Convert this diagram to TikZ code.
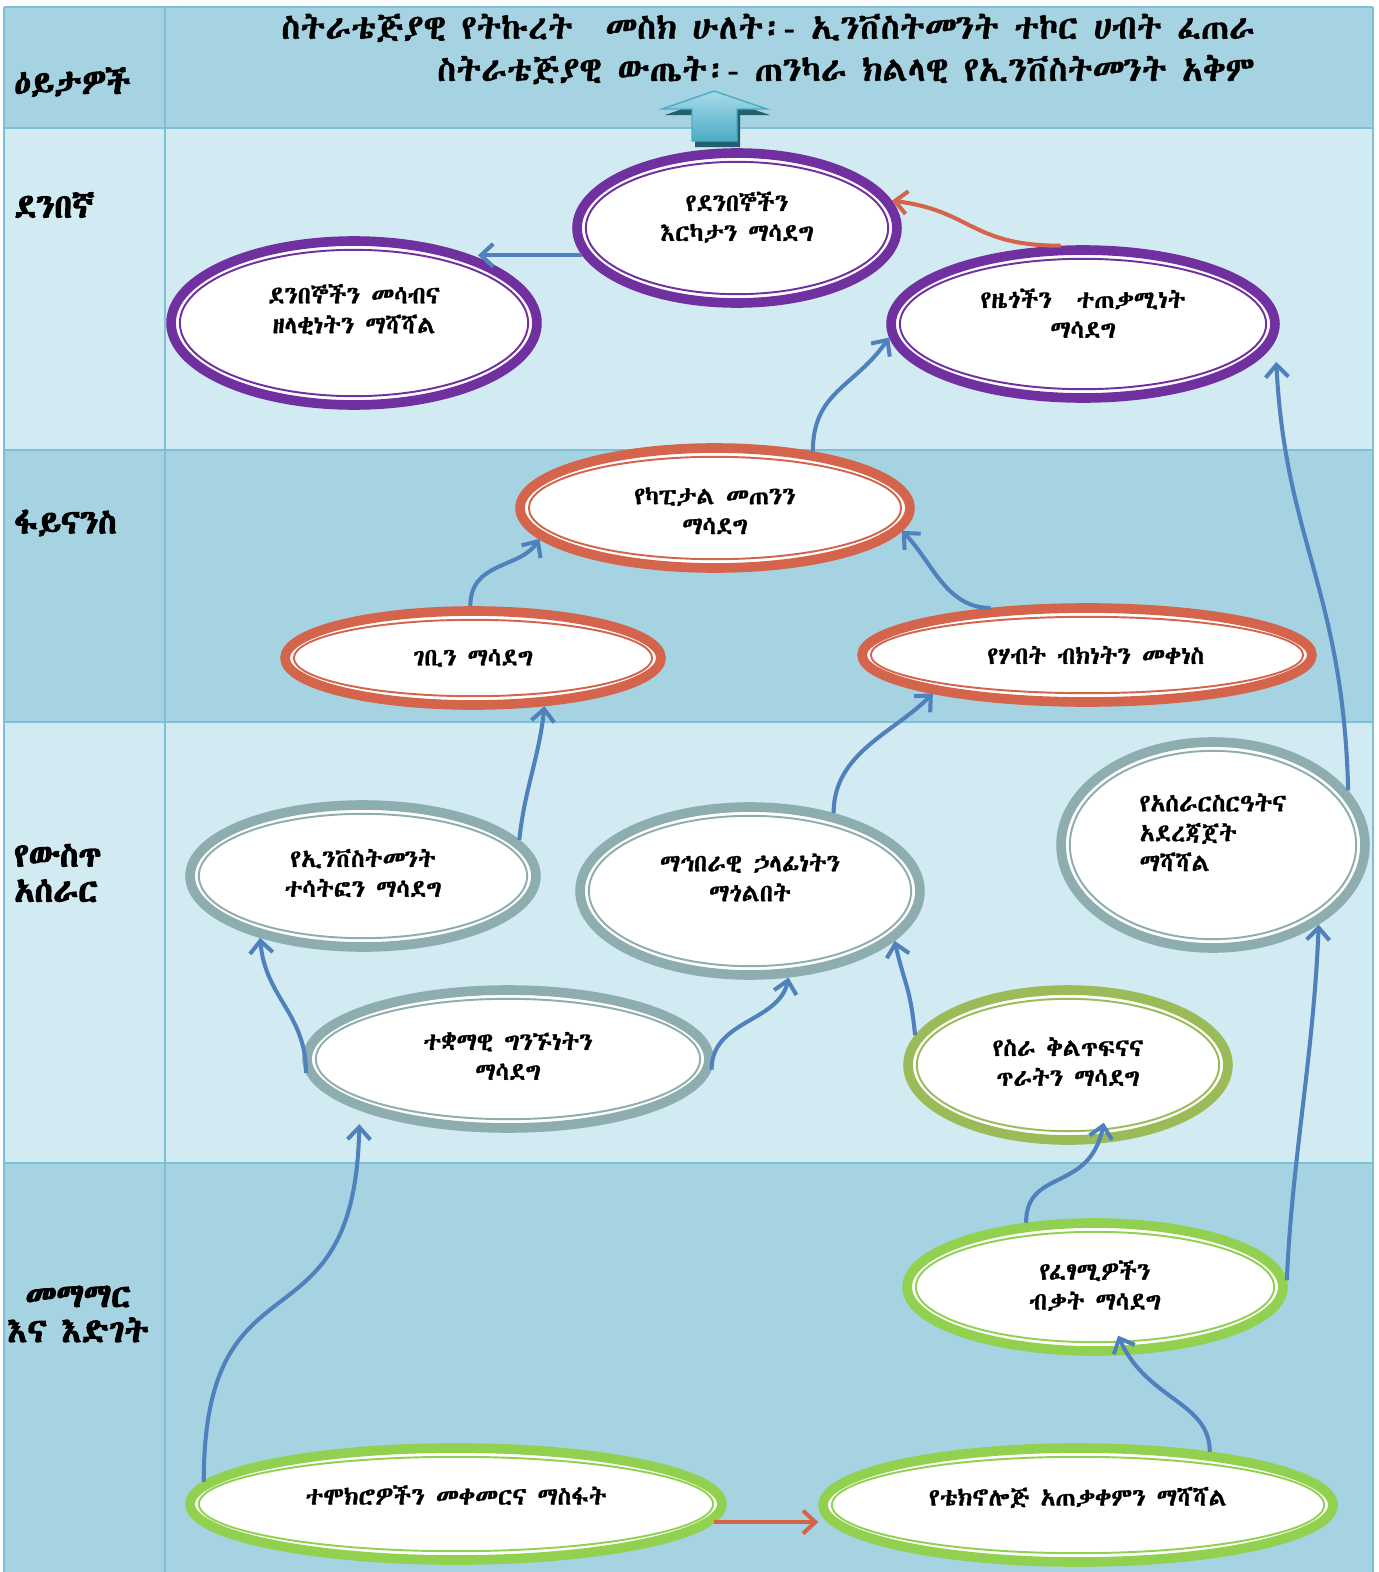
\documentclass[tikz,border=0pt]{standalone}
\usepackage{fontspec}
\usetikzlibrary{shapes.geometric,arrows.meta,calc}

\IfFontExistsTF{Abyssinica SIL}{%
	\newfontfamily\geez[FakeBold=1]{Abyssinica SIL}\newfontfamily\geezbold[FakeBold=3]{Abyssinica SIL}}{%
\IfFontExistsTF{Noto Sans Ethiopic}{%
	\newfontfamily\geez{Noto Sans Ethiopic}\newfontfamily\geezbold[FakeBold=2]{Noto Sans Ethiopic}}{%
	\newfontfamily\geez{FreeSerif}\newfontfamily\geezbold[FakeBold=2]{FreeSerif}}}

\newcommand\goalfont{\geez\fontsize{14}{17}\selectfont}
\newcommand\labelfont{\geezbold\fontsize{19}{20}\selectfont}
\newcommand\titlefont{\geez\fontsize{19.5}{24}\selectfont}
% text block moved up or down inside its oval
\newcommand\lift[3][c]{\raisebox{#2}[\height][\depth]{\begin{tabular}{@{}#1@{}}#3\end{tabular}}}

\definecolor{banddark}{HTML}{A5D3E1}
\definecolor{bandlight}{HTML}{D2EAF2}
\definecolor{gridline}{HTML}{7CBFD6}
\definecolor{custpurple}{HTML}{7030A0}
\definecolor{finred}{HTML}{D4644B}
\definecolor{procgrey}{HTML}{8EADAE}
\definecolor{procolive}{HTML}{9BBB59}
\definecolor{learngreen}{HTML}{92D050}
\definecolor{linkblue}{HTML}{4F81BD}
\definecolor{linkred}{HTML}{D4644B}
\definecolor{arrowtop}{HTML}{A9DAEA}
\definecolor{arrowbot}{HTML}{4BACC6}
\definecolor{arrowshade}{HTML}{245F70}

\begin{document}
\begin{tikzpicture}[x=0.02cm, y=-0.02cm,
	goal/.style={ellipse, draw=#1, line width=5.5pt, fill=white, inner sep=0pt, font=\goalfont,
		path picture={\draw[#1, line width=1.1pt] let \p1=(path picture bounding box.north east), \p2=(path picture bounding box.center) in (\p2) ellipse ({\x1-\x2-5pt} and {\y1-\y2-5pt});}},
	oval/.style 2 args={minimum width=#1*0.04cm, minimum height=#2*0.04cm},
	link/.style={linkblue, line width=2.3pt, -{Straight Barb[length=7pt, width=13pt]}},
	hotlink/.style={link, linkred},
	rowlabel/.style={anchor=west, align=left, font=\labelfont}]
	\useasboundingbox (0,0) rectangle (1379,1572);

	%bands
	\foreach \ya/\yb/\col in {7/128/banddark, 128/450/bandlight, 450/722/banddark, 722/1163/bandlight, 1163/1572/banddark}
		\fill[\col] (4,\ya) rectangle (1373,\yb);
	\foreach \y in {7, 128, 450, 722, 1163}
		\draw[gridline, line width=1.5pt] (4,\y) -- (1373,\y);
	\foreach \x in {4, 165, 1373}
		\draw[gridline, line width=1.5pt] (\x,7) -- (\x,1572);

	%row labels
	\node[rowlabel] (lblview) at (8,82) {ዕይታዎች};
	\node[rowlabel] (lblcust) at (8,205) {ደንበኛ};
	\node[rowlabel] (lblfin) at (8,523) {ፋይናንስ};
	\node[rowlabel] (lblproc) at (8,873) {የውስጥ\\አሰራር};
	\node[rowlabel, anchor=center, align=center] (lbllearn) at (78,1314) {መማማር\\እና እድገት};

	%title
	\node[anchor=east, align=right, font=\titlefont] (title) at (1261,49) {ስትራቴጅያዊ የትኩረት\enspace{} መስክ ሁለት፡- ኢንቨስትመንት ተኮር ሀብት ፈጠራ\\ስትራቴጅያዊ ውጤት፡- ጠንካራ ክልላዊ የኢንቨስትመንት አቅም};

	%up arrow
	\fill[arrowshade, shift={(3,6)}] (714,91) -- (767,109) -- (737,109) -- (737,141) -- (692,141) -- (692,109) -- (662,109) -- cycle;
	\shade[top color=arrowtop, bottom color=arrowbot, draw=arrowbot, line width=0.8pt] (714,91) -- (767,109) -- (737,109) -- (737,141) -- (692,141) -- (692,109) -- (662,109) -- cycle;

	%customer
	\node[goal=custpurple, oval={160}{75}] (satisfy) at (737,228) {\lift{4.5pt}{የደንበኞችን\\እርካታን ማሳደግ}};
	\node[goal=custpurple, oval={183}{82}] (attract) at (354,323) {\lift{6pt}{ደንበኞችን መሳብና\\ዘላቂነትን ማሻሻል}};
	\node[goal=custpurple, oval={192}{74}] (benefit) at (1083,324) {\lift{4pt}{የዜጎችን\quad ተጠቃሚነት\\ማሳደግ}};

	%finance
	\node[goal=finred, oval={195}{60}] (capital) at (715,508) {\lift{-3pt}{የካፒታል መጠንን\\ማሳደግ}};
	\node[goal=finred, oval={188}{47}] (revenue) at (473,658) {ገቢን ማሳደግ};
	\node[goal=finred, oval={225}{47}] (waste) at (1087,655) {\hspace{10pt}የሃብት ብክነትን መቀነስ};

	%internal process
	\node[goal=procgrey, oval={173}{71}] (invest) at (363,876) {\lift{0pt}{የኢንቨስትመንት\\ተሳትፎን ማሳደግ}};
	\node[goal=procgrey, oval={170}{84}] (social) at (750,891) {\lift{6pt}{ማኅበራዊ ኃላፊነትን\\ማጎልበት}};
	\node[goal=procgrey, oval={152}{103}] (system) at (1213,845) {\lift[l]{5.5pt}{የአሰራርስርዓትና\\አደረጃጀት\\ማሻሻል}};
	\node[goal=procgrey, oval={201}{69}] (relation) at (508,1059) {\lift{0pt}{ተቋማዊ ግንኙነትን\\ማሳደግ}};
	\node[goal=procolive, oval={160}{75}] (quality) at (1068,1065) {\lift{0pt}{የስራ ቅልጥፍናና\\ጥራትን ማሳደግ}};

	%learning and growth
	\node[goal=learngreen, oval={188}{64}] (skill) at (1095,1287) {\lift{-1pt}{የፈፃሚዎችን\\ብቃት ማሳደግ}};
	\node[goal=learngreen, oval={266}{56}] (lesson) at (456,1504) {\lift{3pt}{ተሞክሮዎችን መቀመርና ማስፋት}};
	\node[goal=learngreen, oval={255}{57}] (tech) at (1078,1505) {\lift{3pt}{የቴክኖሎጅ አጠቃቀምን ማሻሻል}};

	%links
	\draw[link, shorten >=-5pt] (satisfy.190) -- (satisfy.190 -| attract.north east);
	\draw[hotlink] (benefit.106) .. controls +(-90,0) and +(80,10) .. (satisfy.10);
	\draw[link] (capital.30) .. controls +(0,-60) and +(-35,50) .. (benefit.184);
	\draw[link] (revenue.93) .. controls +(0,-45) and +(-20,30) .. (capital.190);
	\draw[link] (waste.154) .. controls +(-45,0) and +(30,30) .. (capital.353);
	\draw[link, shorten >=12pt] (system.22) .. controls +(-5,-200) and +(10,200) .. (benefit.-5);
	\draw[link] (invest.13) .. controls +(5,-50) and +(-5,50) .. (revenue.326);
	\draw[link] (social.43) .. controls +(0,-60) and +(-40,40) .. (waste.194);
	\draw[link] (relation.184) .. controls +(0,-60) and +(5,60) .. (invest.211);
	\draw[link] (relation.357) .. controls +(0,-50) and +(-10,45) .. (social.294);
	\draw[link] (quality.169) .. controls +(-5,-50) and +(10,45) .. (social.341);
	\draw[link, shorten >=-12pt] (skill.137) .. controls +(0,-55) and +(-10,50) .. (quality.292);
	\draw[link] (skill.2) .. controls +(5,-120) and +(-5,130) .. (system.323);
	\draw[link, shorten >=8pt] (lesson.175) .. controls +(0,-240) and +(-5,250) .. (relation.199);
	\draw[hotlink] (lesson.-4) -- (lesson.-4 -| tech.west);
	\draw[link, shorten >=-12pt] (tech.22) .. controls +(0,-50) and +(20,45) .. (skill.295);
\end{tikzpicture}
\end{document}
